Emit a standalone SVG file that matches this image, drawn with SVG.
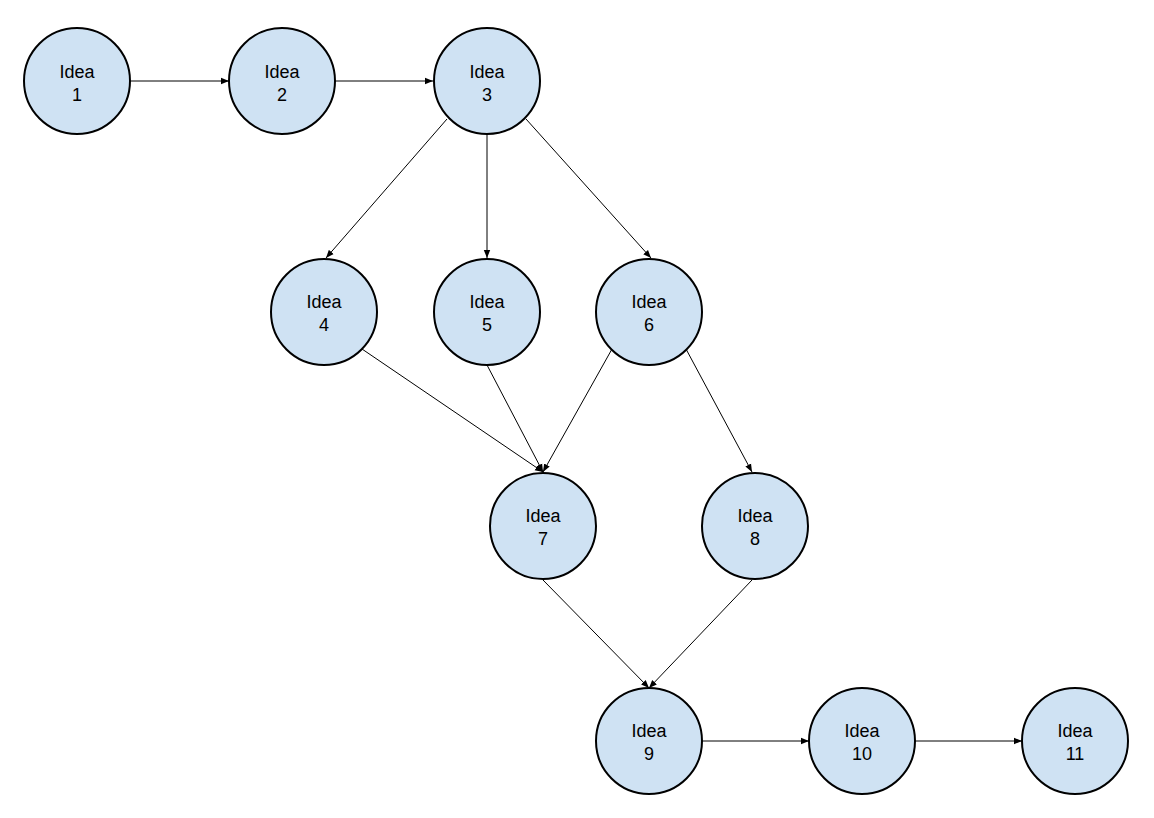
<svg xmlns="http://www.w3.org/2000/svg" width="1154" height="818" viewBox="0 0 1154 818">
<style>
.node circle{fill:#cfe2f3;stroke:#000;stroke-width:2}
.node text{font-family:"Liberation Sans",Arial,sans-serif;font-size:18px;fill:#000;text-anchor:middle}
.edges line{stroke:#000;stroke-width:1;marker-end:url(#ah)}
</style>
<defs>
<marker id="ah" viewBox="0 0 10 10" refX="10" refY="5" markerWidth="8" markerHeight="8" markerUnits="userSpaceOnUse" orient="auto">
<path d="M0,1 L10,5 L0,9 z" fill="#000"/>
</marker>
</defs>
<rect width="1154" height="818" fill="#fff"/>
<g class="edges">
<line x1="130" y1="81" x2="229" y2="81"/>
<line x1="335" y1="81" x2="433" y2="81"/>
<line x1="447" y1="119" x2="326" y2="258"/>
<line x1="487" y1="134" x2="487" y2="258"/>
<line x1="526" y1="119" x2="651" y2="258"/>
<line x1="362" y1="349" x2="543" y2="472"/>
<line x1="487" y1="365" x2="543" y2="472"/>
<line x1="612" y1="349" x2="543" y2="472"/>
<line x1="686" y1="349" x2="752" y2="472"/>
<line x1="543" y1="580" x2="649" y2="688"/>
<line x1="752" y1="580" x2="649" y2="688"/>
<line x1="702" y1="741" x2="809" y2="741"/>
<line x1="915" y1="741" x2="1022" y2="741"/>
</g>
<g id="n1" class="node"><circle cx="77" cy="81" r="53"/><text x="77" y="78">Idea</text><text x="77" y="101">1</text></g>
<g id="n2" class="node"><circle cx="282" cy="81" r="53"/><text x="282" y="78">Idea</text><text x="282" y="101">2</text></g>
<g id="n3" class="node"><circle cx="487" cy="81" r="53"/><text x="487" y="78">Idea</text><text x="487" y="101">3</text></g>
<g id="n4" class="node"><circle cx="324" cy="312" r="53"/><text x="324" y="308">Idea</text><text x="324" y="331">4</text></g>
<g id="n5" class="node"><circle cx="487" cy="312" r="53"/><text x="487" y="308">Idea</text><text x="487" y="331">5</text></g>
<g id="n6" class="node"><circle cx="649" cy="312" r="53"/><text x="649" y="308">Idea</text><text x="649" y="331">6</text></g>
<g id="n7" class="node"><circle cx="543" cy="526" r="53"/><text x="543" y="522">Idea</text><text x="543" y="545">7</text></g>
<g id="n8" class="node"><circle cx="755" cy="526" r="53"/><text x="755" y="522">Idea</text><text x="755" y="545">8</text></g>
<g id="n9" class="node"><circle cx="649" cy="741" r="53"/><text x="649" y="737">Idea</text><text x="649" y="760">9</text></g>
<g id="n10" class="node"><circle cx="862" cy="741" r="53"/><text x="862" y="737">Idea</text><text x="862" y="760">10</text></g>
<g id="n11" class="node"><circle cx="1075" cy="741" r="53"/><text x="1075" y="737">Idea</text><text x="1075" y="760">11</text></g>
</svg>
